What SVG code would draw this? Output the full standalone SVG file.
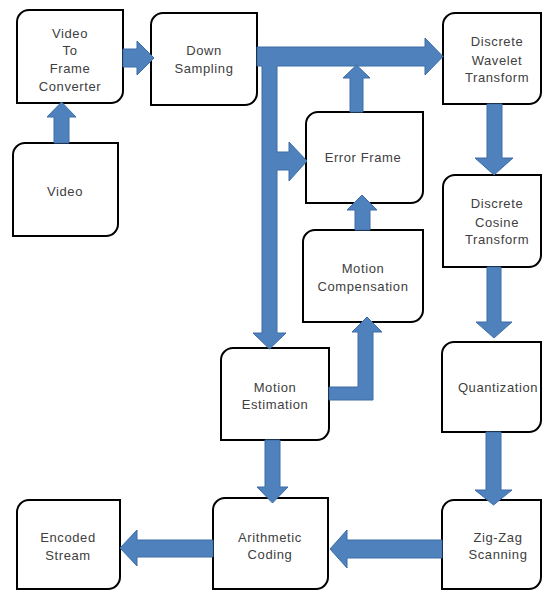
<svg xmlns="http://www.w3.org/2000/svg" width="542" height="590" viewBox="0 0 542 590">
<style>
.box{fill:#fff;stroke:#000;stroke-width:2}
.arr{fill:#4F81BD;stroke:#3D6DA8;stroke-width:1;stroke-linejoin:miter}
.t{font-family:"Liberation Sans",Arial,sans-serif;font-size:13px;fill:#404040;text-anchor:middle;letter-spacing:0.6px}
</style>
<rect width="542" height="590" fill="#fff"/>
<g id="vtfc"><path class="box" d="M29,10 H123 V91 A12,12 0 0 1 111,103 H17 V22 A12,12 0 0 1 29,10 Z"/>
<text class="t" x="70" y="38">Video</text><text class="t" x="70" y="55">To</text><text class="t" x="70" y="73">Frame</text><text class="t" x="70" y="91">Converter</text></g>
<g id="down"><path class="box" d="M163,13 H257 V93 A12,12 0 0 1 245,105 H151 V25 A12,12 0 0 1 163,13 Z"/>
<text class="t" x="204" y="55">Down</text><text class="t" x="204" y="73">Sampling</text></g>
<g id="video"><path class="box" d="M25,143 H118 V224 A12,12 0 0 1 106,236 H13 V155 A12,12 0 0 1 25,143 Z"/>
<text class="t" x="65" y="196">Video</text></g>
<g id="dwt"><path class="box" d="M455,13 H541 V92 A12,12 0 0 1 529,104 H443 V25 A12,12 0 0 1 455,13 Z"/>
<text class="t" x="497" y="46">Discrete</text><text class="t" x="497" y="65">Wavelet</text><text class="t" x="497" y="82">Transform</text></g>
<g id="error"><path class="box" d="M318,112 H423 V191 A12,12 0 0 1 411,203 H306 V124 A12,12 0 0 1 318,112 Z"/>
<text class="t" x="363" y="162">Error Frame</text></g>
<g id="mc"><path class="box" d="M315,230 H423 V310 A12,12 0 0 1 411,322 H303 V242 A12,12 0 0 1 315,230 Z"/>
<text class="t" x="363" y="273">Motion</text><text class="t" x="363" y="291">Compensation</text></g>
<g id="dct"><path class="box" d="M455,175 H541 V255 A12,12 0 0 1 529,267 H443 V187 A12,12 0 0 1 455,175 Z"/>
<text class="t" x="497" y="208">Discrete</text><text class="t" x="497" y="227">Cosine</text><text class="t" x="497" y="244">Transform</text></g>
<g id="me"><path class="box" d="M233,348 H329 V428 A12,12 0 0 1 317,440 H221 V360 A12,12 0 0 1 233,348 Z"/>
<text class="t" x="275" y="392">Motion</text><text class="t" x="275" y="409">Estimation</text></g>
<g id="quant"><path class="box" d="M454,342 H541 V420 A12,12 0 0 1 529,432 H442 V354 A12,12 0 0 1 454,342 Z"/>
<text class="t" x="498" y="392">Quantization</text></g>
<g id="arith"><path class="box" d="M225,498 H328 V577 A12,12 0 0 1 316,589 H213 V510 A12,12 0 0 1 225,498 Z"/>
<text class="t" x="270" y="542">Arithmetic</text><text class="t" x="270" y="559">Coding</text></g>
<g id="zigzag"><path class="box" d="M454,500 H541 V577 A12,12 0 0 1 529,589 H442 V512 A12,12 0 0 1 454,500 Z"/>
<text class="t" x="498" y="542">Zig-Zag</text><text class="t" x="498" y="559">Scanning</text></g>
<g id="encoded"><path class="box" d="M29,500 H120 V577 A12,12 0 0 1 108,589 H17 V512 A12,12 0 0 1 29,500 Z"/>
<text class="t" x="68" y="542">Encoded</text><text class="t" x="68" y="560">Stream</text></g>
<g id="connectors">
<polygon class="arr" points="54,143 54,117 47,117 61.5,102 76,117 69,117 69,143"/>
<polygon class="arr" points="123,49 137,49 137,41 154,58 137,75 137,67 123,67"/>
<polygon class="arr" points="257,47 425,47 425,38 443,56.5 425,75 425,66 277,66 277,152 289,152 289,142 307,161 289,181 289,170 277,170 277,333 286,333 269.5,349 253,333 262,333 262,66 257,66"/>
<polygon class="arr" points="350,112 350,78 343,78 356.5,65 370,78 363,78 363,112"/>
<polygon class="arr" points="355,230 355,210 347,210 362,195 377,210 370,210 370,230"/>
<polygon class="arr" points="329,387 358,387 358,332 352,332 367,317 382,332 373,332 373,400 329,400"/>
<polygon class="arr" points="487,104 487,158 475,158 494,175 513,158 502,158 502,104"/>
<polygon class="arr" points="487,267 487,322 476,322 494,338 512,322 501,322 501,267"/>
<polygon class="arr" points="486,432 486,490 475,490 493.5,505 512,490 501,490 501,432"/>
<polygon class="arr" points="442,540 347,540 347,530 330,549 347,568 347,558 442,558"/>
<polygon class="arr" points="265,440 265,487 257,487 272.5,503 288,487 280,487 280,440"/>
<polygon class="arr" points="213,540 137,540 137,530 120,548 137,566 137,557 213,557"/>
</g>
</svg>
